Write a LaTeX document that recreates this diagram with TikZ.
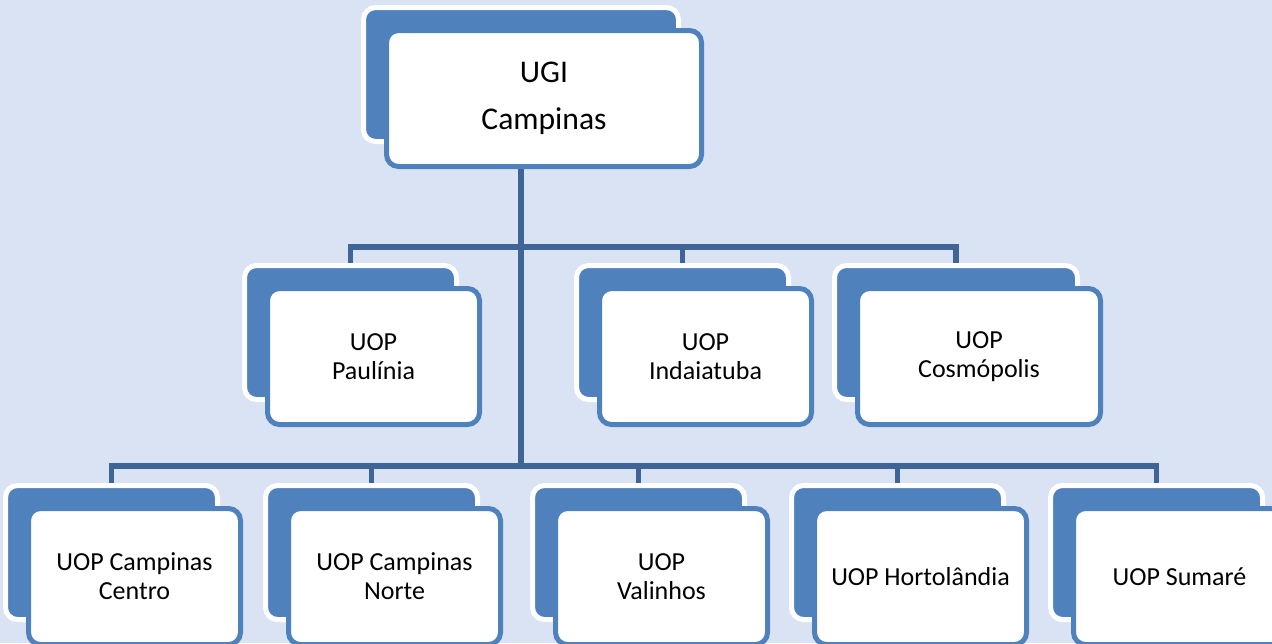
\documentclass[tikz,border=0pt]{standalone}
\usepackage{fontspec}
\setmainfont{Carlito}
\definecolor{bg}{RGB}{218,227,243}
\definecolor{boxblue}{RGB}{79,129,189}
\definecolor{linkblue}{RGB}{62,101,150}
\newcommand\orgunit[7][]{%
  \node[backbox, minimum width=#5pt-5pt, minimum height=#6pt-5pt] (#2B) at ({#3+#5/2},{#4+#6/2}) {};
  \node[frontbox, minimum width=#5pt-5pt, minimum height=#6pt-3pt, #1] (#2) at ({#3+23+#5/2},{#4+23+(#6+2)/2}) {#7};
}
\begin{document}
\begin{tikzpicture}[x=1pt,y=-1pt,
  backbox/.style={rectangle, rounded corners=12pt, fill=boxblue, draw=white, line width=5pt, inner sep=0pt},
  frontbox/.style={rectangle, rounded corners=12pt, fill=white, draw=boxblue, line width=5pt, inner sep=0pt, align=center, text=black, font=\fontsize{26}{29}\selectfont},
  conn/.style={draw=linkblue, line width=5.5pt, line join=miter}]
\useasboundingbox (0,0) rectangle (1272,643);
\fill[bg] (0,0) rectangle (1272,643);
\clip (0,0) rectangle (1272,643);
\coordinate (bus1) at (0,247);
\coordinate (bus2) at (0,466);
\coordinate (bus2b) at (0,469);
% top
\orgunit[font=\fontsize{31.6}{47}\selectfont]{ugi}{361}{5}{320}{139}{UGI\\Campinas}
% middle row
\orgunit{pau}{242}{263}{217}{139}{UOP\\Paulínia}
\orgunit{ind}{574}{263}{217}{139}{UOP\\Indaiatuba}
\orgunit{cos}{832}{263}{248}{139}{UOP\\Cosmópolis}
% bottom row
\orgunit{cc}{3}{483}{217}{139}{UOP Campinas\\Centro}
\orgunit{nc}{263}{483}{217}{139}{UOP Campinas\\Norte}
\orgunit{val}{530}{483}{217}{139}{UOP\\Valinhos}
\orgunit{hor}{789}{483}{217}{139}{UOP Hortolândia}
\orgunit{sum}{1048}{483}{217}{139}{UOP Sumaré}
% connectors
\draw[conn] (ugiB.south |- ugi.south) -- (ugiB.south |- bus2b);
\draw[conn] (pauB.north) -- (pauB.north |- bus1) -- (cosB.north |- bus1) -- (cosB.north);
\draw[conn] (indB.north |- bus1) -- (indB.north);
\draw[conn] (ccB.north) -- (ccB.north |- bus2) -- (sumB.north |- bus2) -- (sumB.north);
\draw[conn] (ncB.north |- bus2) -- (ncB.north);
\draw[conn] (valB.north |- bus2) -- (valB.north);
\draw[conn] (horB.north |- bus2) -- (horB.north);
\end{tikzpicture}
\end{document}
